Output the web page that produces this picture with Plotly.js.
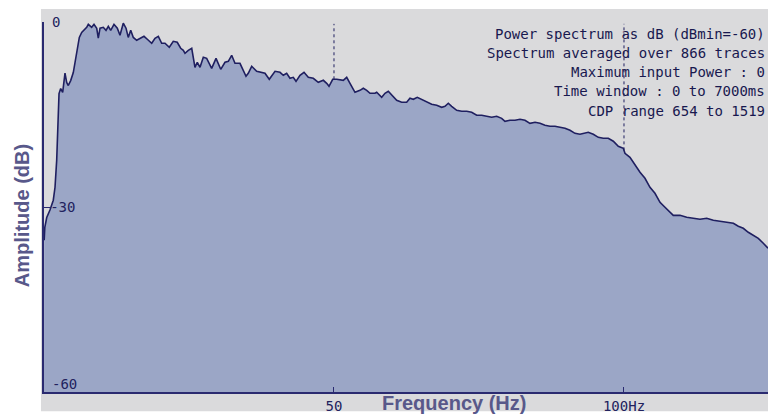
<!DOCTYPE html>
<html>
<head>
<meta charset="utf-8">
<script src="https://cdn.plot.ly/plotly-3.0.1.min.js"></script>
<style>html,body{margin:0;padding:0;background:#fff;}#chart{width:768px;height:418px;}</style>
</head>
<body>
<div id="chart"></div>
<script>
// Frequency (Hz)
const freqHz = [
  0.03, 0.14, 0.47, 1.03, 1.60, 1.90, 2.19, 2.36, 2.59, 2.88,
  3.22, 3.62, 3.91, 4.19, 4.60, 5.05, 5.34, 5.64, 6.09, 6.50,
  7.36, 7.64, 8.22, 8.62, 9.09, 9.36, 9.66, 10.22, 10.69, 11.09,
  11.50, 12.07, 12.64, 13.10, 13.67, 14.14, 14.53, 14.95, 15.40, 15.98,
  16.55, 17.24, 17.81, 18.57, 19.14, 19.71, 20.29, 20.86, 21.60, 22.29,
  22.97, 23.57, 24.02, 24.31, 24.88, 25.47, 26.03, 26.43, 26.90, 27.47,
  28.05, 28.91, 29.66, 30.47, 31.21, 31.78, 32.36, 32.93, 33.79, 34.09,
  34.83, 35.22, 35.81, 36.67, 37.53, 38.10, 38.84, 39.83, 40.69, 41.26,
  41.84, 42.41, 42.98, 43.45, 44.14, 44.83, 45.57, 46.43, 47.29, 48.16,
  48.74, 49.14, 49.78, 50.47, 51.60, 52.19, 52.76, 53.62, 54.48, 55.05,
  55.64, 56.21, 57.07, 57.36, 58.22, 58.79, 59.36, 59.95, 60.81, 61.67,
  62.53, 63.10, 63.67, 64.36, 65.12, 65.98, 66.84, 67.71, 68.57, 69.14,
  69.71, 70.29, 71.16, 72.02, 72.88, 73.74, 74.60, 75.47, 76.33, 77.19,
  78.05, 78.91, 79.48, 80.34, 81.21, 82.07, 82.93, 83.79, 84.66, 85.52,
  86.38, 87.24, 88.10, 88.97, 89.83, 90.69, 91.55, 92.41, 93.28, 93.84,
  94.71, 95.57, 96.43, 97.29, 98.16, 99.02, 99.88, 100.17, 101.03, 101.90,
  102.76, 103.62, 104.48, 105.34, 106.21, 107.07, 107.93, 108.50, 109.66, 110.81,
  111.95, 113.10, 114.26, 115.40, 116.55, 117.71, 118.86, 119.71, 120.57, 121.43,
  122.29, 123.16, 124.02, 124.83
];
// Amplitude (dB)
const ampDb = [
  -35.4, -33.3, -31.7, -30.5, -28.9, -26.8, -22.4, -17.1, -11.6, -10.8,
  -11.4, -8.3, -9.8, -10.3, -9.5, -8.2, -6.5, -4.6, -2.5, -1.7,
  -0.86, -0.37, -0.86, -0.37, -1.02, -2.6, -1.0, -0.86, -1.35, -0.7,
  -1.35, -0.37, -1.0, -2.16, -0.2, -1.0, -2.5, -1.35, -2.5, -2.97,
  -2.64, -2.32, -2.8, -3.45, -2.64, -2.32, -3.45, -3.45, -4.1, -3.13,
  -3.29, -4.26, -4.59, -5.08, -4.59, -4.26, -7.35, -6.53, -7.35, -5.72,
  -5.89, -7.51, -5.89, -7.67, -6.53, -6.37, -5.4, -6.7, -6.7, -7.35,
  -8.8, -8.32, -7.18, -8.0, -8.16, -8.32, -9.29, -8.0, -8.16, -8.64,
  -8.32, -9.13, -8.97, -9.62, -8.64, -8.16, -8.97, -9.13, -9.78, -9.45,
  -9.94, -10.43, -9.29, -9.29, -9.45, -8.97, -9.94, -11.4, -11.08, -10.75,
  -11.08, -11.56, -11.56, -11.4, -12.21, -11.56, -11.24, -11.89, -12.7, -13.02,
  -13.02, -12.37, -12.53, -12.21, -12.53, -13.02, -13.35, -13.51, -13.83, -13.67,
  -13.18, -13.67, -14.32, -14.48, -14.48, -14.64, -15.13, -15.13, -15.29, -15.45,
  -15.29, -15.62, -16.1, -15.94, -15.94, -15.78, -15.94, -16.43, -16.26, -16.43,
  -16.75, -16.91, -16.91, -17.07, -17.24, -17.56, -18.05, -18.21, -18.05, -17.89,
  -18.21, -18.7, -18.86, -18.86, -19.34, -20.15, -20.48, -21.29, -21.94, -23.24,
  -24.37, -25.34, -26.8, -27.78, -29.24, -30.05, -30.86, -31.35, -31.35, -31.67,
  -31.83, -31.99, -31.83, -32.16, -32.32, -32.48, -32.64, -33.13, -33.45, -34.1,
  -34.59, -35.08, -35.88, -36.69
];
const dbMin = -60;
const yTickVals = [0, -30];
const yTickText = ['', '-30'];
const xTickVals = [50, 100];
const xTickText = ['50', '100Hz'];
const markerFreqs = [50, 100];
const markerTopDb = -0.3;
const infoLines = [
  'Power spectrum as dB (dBmin=-60)',
  'Spectrum averaged over 866 traces',
  'Maximum input Power : 0',
  'Time window : 0 to 7000ms',
  'CDP range 654 to 1519'
];
const infoLineDb = [-2.0, -5.1, -8.15, -11.2, -14.45];

const NAVY = '#18184f';
const AXISNAVY = '#2a2a70';
const TITLE = '#58588a';
const FILL = '#9ba6c6';
const BG = '#dadadc';
const monoFont = {family: 'DejaVu Sans Mono', size: 14, color: NAVY};
const tickFont = {family: 'DejaVu Sans Mono', size: 14, color: '#22225e'};

function interp(x) {
  for (let i = 1; i < freqHz.length; i++) {
    if (freqHz[i] >= x) {
      const t = (x - freqHz[i-1]) / (freqHz[i] - freqHz[i-1]);
      return ampDb[i-1] + t * (ampDb[i] - ampDb[i-1]);
    }
  }
  return ampDb[ampDb.length - 1];
}

const xMax = freqHz[freqHz.length - 1];

const traces = [
  {x: [0, xMax], y: [dbMin, dbMin], mode: 'lines', line: {width: 0}, hoverinfo: 'skip', showlegend: false},
  {x: freqHz, y: ampDb, mode: 'lines', fill: 'tonexty', fillcolor: FILL,
   line: {color: '#1f1f60', width: 1.6}, showlegend: false}
];

const shapes = [
  {type: 'rect', xref: 'paper', yref: 'paper', x0: -0.0042, x1: 1, y0: -0.052, y1: 1.035,
   fillcolor: BG, line: {width: 0}, layer: 'below'}
];
markerFreqs.forEach(f => {
  shapes.push({type: 'line', xref: 'x', yref: 'y', x0: f, x1: f, y0: interp(f), y1: markerTopDb,
    line: {color: '#1f1f60', width: 1, dash: 'dot'}});
});

const annotations = infoLines.map((t, i) => ({
  text: t, xref: 'paper', yref: 'y', x: 1, y: infoLineDb[i], xanchor: 'right', yanchor: 'middle',
  showarrow: false, font: monoFont, xshift: -1
}));
annotations.push({text: '0', xref: 'paper', yref: 'y', x: 0, y: 0, xanchor: 'left', yanchor: 'middle',
  yshift: 0, xshift: 6, showarrow: false, font: tickFont});
annotations.push({text: '-60', xref: 'paper', yref: 'y', x: 0, y: dbMin, xanchor: 'left', yanchor: 'middle',
  yshift: 8, xshift: 6, showarrow: false, font: tickFont});
annotations.push({text: '<b>Frequency (Hz)</b>', xref: 'paper', yref: 'paper', x: 0.5663, y: -0.03,
  xanchor: 'center', yanchor: 'middle', showarrow: false,
  font: {family: 'Liberation Sans', size: 20, color: TITLE}});
annotations.push({text: '<b>Amplitude (dB)</b>', xref: 'paper', yref: 'paper', x: -0.0304, y: 0.478,
  xanchor: 'center', yanchor: 'middle', textangle: -90, showarrow: false,
  font: {family: 'Liberation Sans', size: 20, color: TITLE}});

const layout = {
  width: 768, height: 418,
  margin: {l: 44, r: 0, t: 22, b: 26, pad: 0},
  paper_bgcolor: '#ffffff',
  plot_bgcolor: 'rgba(0,0,0,0)',
  showlegend: false,
  xaxis: {
    range: [0, 124.83], showgrid: false, zeroline: false,
    showline: true, linecolor: AXISNAVY, linewidth: 2,
    tickvals: xTickVals, ticktext: xTickText, ticks: 'inside', ticklen: 5, tickcolor: AXISNAVY,
    tickfont: tickFont, fixedrange: true
  },
  yaxis: {
    range: [dbMin, 0], showgrid: false, zeroline: false,
    showline: true, linecolor: AXISNAVY, linewidth: 2,
    tickvals: yTickVals, ticktext: yTickText, ticks: 'inside', ticklen: 6, tickcolor: AXISNAVY,
    ticklabelposition: 'inside', tickfont: tickFont, fixedrange: true
  },
  shapes: shapes,
  annotations: annotations
};

Plotly.newPlot('chart', traces, layout, {displayModeBar: false, staticPlot: true});
</script>
</body>
</html>
